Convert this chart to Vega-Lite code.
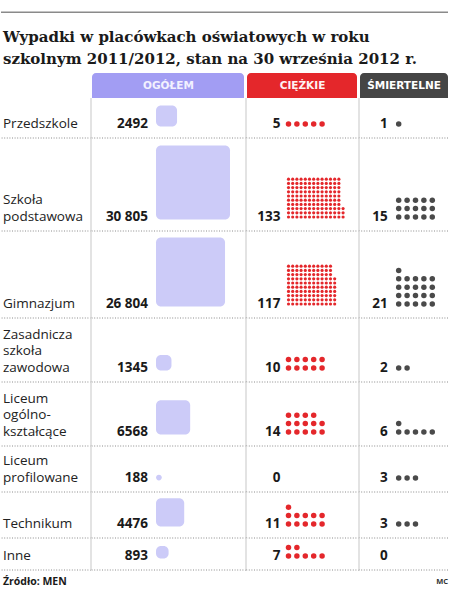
{
"$schema":"https://vega.github.io/schema/vega-lite/v6.json",
"padding":0,
"spacing":0,
"config":{"view":{"stroke":null},"concat":{"spacing":0},"locale":{"number":{"decimal":",","thousands":" ","grouping":[3],"currency":[""," zł"]}}},
"datasets":{
"dane":[
{"typ":"Przedszkole","ogolem":2492,"ciezkie":5,"smiertelne":1},
{"typ":"Szkoła podstawowa","ogolem":30805,"ciezkie":133,"smiertelne":15},
{"typ":"Gimnazjum","ogolem":26804,"ciezkie":117,"smiertelne":21},
{"typ":"Zasadnicza szkoła zawodowa","ogolem":1345,"ciezkie":10,"smiertelne":2},
{"typ":"Liceum ogólnokształcące","ogolem":6568,"ciezkie":14,"smiertelne":6},
{"typ":"Liceum profilowane","ogolem":188,"ciezkie":0,"smiertelne":3},
{"typ":"Technikum","ogolem":4476,"ciezkie":11,"smiertelne":3},
{"typ":"Inne","ogolem":893,"ciezkie":7,"smiertelne":0}
],
"ciezkie":[
{"typ":"Przedszkole"},{"typ":"Przedszkole"},{"typ":"Przedszkole"},{"typ":"Przedszkole"},{"typ":"Przedszkole"},
{"typ":"Szkoła podstawowa"},{"typ":"Szkoła podstawowa"},{"typ":"Szkoła podstawowa"},{"typ":"Szkoła podstawowa"},{"typ":"Szkoła podstawowa"},{"typ":"Szkoła podstawowa"},{"typ":"Szkoła podstawowa"},{"typ":"Szkoła podstawowa"},{"typ":"Szkoła podstawowa"},{"typ":"Szkoła podstawowa"},
{"typ":"Szkoła podstawowa"},{"typ":"Szkoła podstawowa"},{"typ":"Szkoła podstawowa"},{"typ":"Szkoła podstawowa"},{"typ":"Szkoła podstawowa"},{"typ":"Szkoła podstawowa"},{"typ":"Szkoła podstawowa"},{"typ":"Szkoła podstawowa"},{"typ":"Szkoła podstawowa"},{"typ":"Szkoła podstawowa"},
{"typ":"Szkoła podstawowa"},{"typ":"Szkoła podstawowa"},{"typ":"Szkoła podstawowa"},{"typ":"Szkoła podstawowa"},{"typ":"Szkoła podstawowa"},{"typ":"Szkoła podstawowa"},{"typ":"Szkoła podstawowa"},{"typ":"Szkoła podstawowa"},{"typ":"Szkoła podstawowa"},{"typ":"Szkoła podstawowa"},
{"typ":"Szkoła podstawowa"},{"typ":"Szkoła podstawowa"},{"typ":"Szkoła podstawowa"},{"typ":"Szkoła podstawowa"},{"typ":"Szkoła podstawowa"},{"typ":"Szkoła podstawowa"},{"typ":"Szkoła podstawowa"},{"typ":"Szkoła podstawowa"},{"typ":"Szkoła podstawowa"},{"typ":"Szkoła podstawowa"},
{"typ":"Szkoła podstawowa"},{"typ":"Szkoła podstawowa"},{"typ":"Szkoła podstawowa"},{"typ":"Szkoła podstawowa"},{"typ":"Szkoła podstawowa"},{"typ":"Szkoła podstawowa"},{"typ":"Szkoła podstawowa"},{"typ":"Szkoła podstawowa"},{"typ":"Szkoła podstawowa"},{"typ":"Szkoła podstawowa"},
{"typ":"Szkoła podstawowa"},{"typ":"Szkoła podstawowa"},{"typ":"Szkoła podstawowa"},{"typ":"Szkoła podstawowa"},{"typ":"Szkoła podstawowa"},{"typ":"Szkoła podstawowa"},{"typ":"Szkoła podstawowa"},{"typ":"Szkoła podstawowa"},{"typ":"Szkoła podstawowa"},{"typ":"Szkoła podstawowa"},
{"typ":"Szkoła podstawowa"},{"typ":"Szkoła podstawowa"},{"typ":"Szkoła podstawowa"},{"typ":"Szkoła podstawowa"},{"typ":"Szkoła podstawowa"},{"typ":"Szkoła podstawowa"},{"typ":"Szkoła podstawowa"},{"typ":"Szkoła podstawowa"},{"typ":"Szkoła podstawowa"},{"typ":"Szkoła podstawowa"},
{"typ":"Szkoła podstawowa"},{"typ":"Szkoła podstawowa"},{"typ":"Szkoła podstawowa"},{"typ":"Szkoła podstawowa"},{"typ":"Szkoła podstawowa"},{"typ":"Szkoła podstawowa"},{"typ":"Szkoła podstawowa"},{"typ":"Szkoła podstawowa"},{"typ":"Szkoła podstawowa"},{"typ":"Szkoła podstawowa"},
{"typ":"Szkoła podstawowa"},{"typ":"Szkoła podstawowa"},{"typ":"Szkoła podstawowa"},{"typ":"Szkoła podstawowa"},{"typ":"Szkoła podstawowa"},{"typ":"Szkoła podstawowa"},{"typ":"Szkoła podstawowa"},{"typ":"Szkoła podstawowa"},{"typ":"Szkoła podstawowa"},{"typ":"Szkoła podstawowa"},
{"typ":"Szkoła podstawowa"},{"typ":"Szkoła podstawowa"},{"typ":"Szkoła podstawowa"},{"typ":"Szkoła podstawowa"},{"typ":"Szkoła podstawowa"},{"typ":"Szkoła podstawowa"},{"typ":"Szkoła podstawowa"},{"typ":"Szkoła podstawowa"},{"typ":"Szkoła podstawowa"},{"typ":"Szkoła podstawowa"},
{"typ":"Szkoła podstawowa"},{"typ":"Szkoła podstawowa"},{"typ":"Szkoła podstawowa"},{"typ":"Szkoła podstawowa"},{"typ":"Szkoła podstawowa"},{"typ":"Szkoła podstawowa"},{"typ":"Szkoła podstawowa"},{"typ":"Szkoła podstawowa"},{"typ":"Szkoła podstawowa"},{"typ":"Szkoła podstawowa"},
{"typ":"Szkoła podstawowa"},{"typ":"Szkoła podstawowa"},{"typ":"Szkoła podstawowa"},{"typ":"Szkoła podstawowa"},{"typ":"Szkoła podstawowa"},{"typ":"Szkoła podstawowa"},{"typ":"Szkoła podstawowa"},{"typ":"Szkoła podstawowa"},{"typ":"Szkoła podstawowa"},{"typ":"Szkoła podstawowa"},
{"typ":"Szkoła podstawowa"},{"typ":"Szkoła podstawowa"},{"typ":"Szkoła podstawowa"},{"typ":"Szkoła podstawowa"},{"typ":"Szkoła podstawowa"},{"typ":"Szkoła podstawowa"},{"typ":"Szkoła podstawowa"},{"typ":"Szkoła podstawowa"},{"typ":"Szkoła podstawowa"},{"typ":"Szkoła podstawowa"},
{"typ":"Szkoła podstawowa"},{"typ":"Szkoła podstawowa"},{"typ":"Szkoła podstawowa"},
{"typ":"Gimnazjum"},{"typ":"Gimnazjum"},{"typ":"Gimnazjum"},{"typ":"Gimnazjum"},{"typ":"Gimnazjum"},{"typ":"Gimnazjum"},{"typ":"Gimnazjum"},{"typ":"Gimnazjum"},{"typ":"Gimnazjum"},{"typ":"Gimnazjum"},
{"typ":"Gimnazjum"},{"typ":"Gimnazjum"},{"typ":"Gimnazjum"},{"typ":"Gimnazjum"},{"typ":"Gimnazjum"},{"typ":"Gimnazjum"},{"typ":"Gimnazjum"},{"typ":"Gimnazjum"},{"typ":"Gimnazjum"},{"typ":"Gimnazjum"},
{"typ":"Gimnazjum"},{"typ":"Gimnazjum"},{"typ":"Gimnazjum"},{"typ":"Gimnazjum"},{"typ":"Gimnazjum"},{"typ":"Gimnazjum"},{"typ":"Gimnazjum"},{"typ":"Gimnazjum"},{"typ":"Gimnazjum"},{"typ":"Gimnazjum"},
{"typ":"Gimnazjum"},{"typ":"Gimnazjum"},{"typ":"Gimnazjum"},{"typ":"Gimnazjum"},{"typ":"Gimnazjum"},{"typ":"Gimnazjum"},{"typ":"Gimnazjum"},{"typ":"Gimnazjum"},{"typ":"Gimnazjum"},{"typ":"Gimnazjum"},
{"typ":"Gimnazjum"},{"typ":"Gimnazjum"},{"typ":"Gimnazjum"},{"typ":"Gimnazjum"},{"typ":"Gimnazjum"},{"typ":"Gimnazjum"},{"typ":"Gimnazjum"},{"typ":"Gimnazjum"},{"typ":"Gimnazjum"},{"typ":"Gimnazjum"},
{"typ":"Gimnazjum"},{"typ":"Gimnazjum"},{"typ":"Gimnazjum"},{"typ":"Gimnazjum"},{"typ":"Gimnazjum"},{"typ":"Gimnazjum"},{"typ":"Gimnazjum"},{"typ":"Gimnazjum"},{"typ":"Gimnazjum"},{"typ":"Gimnazjum"},
{"typ":"Gimnazjum"},{"typ":"Gimnazjum"},{"typ":"Gimnazjum"},{"typ":"Gimnazjum"},{"typ":"Gimnazjum"},{"typ":"Gimnazjum"},{"typ":"Gimnazjum"},{"typ":"Gimnazjum"},{"typ":"Gimnazjum"},{"typ":"Gimnazjum"},
{"typ":"Gimnazjum"},{"typ":"Gimnazjum"},{"typ":"Gimnazjum"},{"typ":"Gimnazjum"},{"typ":"Gimnazjum"},{"typ":"Gimnazjum"},{"typ":"Gimnazjum"},{"typ":"Gimnazjum"},{"typ":"Gimnazjum"},{"typ":"Gimnazjum"},
{"typ":"Gimnazjum"},{"typ":"Gimnazjum"},{"typ":"Gimnazjum"},{"typ":"Gimnazjum"},{"typ":"Gimnazjum"},{"typ":"Gimnazjum"},{"typ":"Gimnazjum"},{"typ":"Gimnazjum"},{"typ":"Gimnazjum"},{"typ":"Gimnazjum"},
{"typ":"Gimnazjum"},{"typ":"Gimnazjum"},{"typ":"Gimnazjum"},{"typ":"Gimnazjum"},{"typ":"Gimnazjum"},{"typ":"Gimnazjum"},{"typ":"Gimnazjum"},{"typ":"Gimnazjum"},{"typ":"Gimnazjum"},{"typ":"Gimnazjum"},
{"typ":"Gimnazjum"},{"typ":"Gimnazjum"},{"typ":"Gimnazjum"},{"typ":"Gimnazjum"},{"typ":"Gimnazjum"},{"typ":"Gimnazjum"},{"typ":"Gimnazjum"},{"typ":"Gimnazjum"},{"typ":"Gimnazjum"},{"typ":"Gimnazjum"},
{"typ":"Gimnazjum"},{"typ":"Gimnazjum"},{"typ":"Gimnazjum"},{"typ":"Gimnazjum"},{"typ":"Gimnazjum"},{"typ":"Gimnazjum"},{"typ":"Gimnazjum"},
{"typ":"Zasadnicza szkoła zawodowa"},{"typ":"Zasadnicza szkoła zawodowa"},{"typ":"Zasadnicza szkoła zawodowa"},{"typ":"Zasadnicza szkoła zawodowa"},{"typ":"Zasadnicza szkoła zawodowa"},{"typ":"Zasadnicza szkoła zawodowa"},{"typ":"Zasadnicza szkoła zawodowa"},{"typ":"Zasadnicza szkoła zawodowa"},{"typ":"Zasadnicza szkoła zawodowa"},{"typ":"Zasadnicza szkoła zawodowa"},
{"typ":"Liceum ogólnokształcące"},{"typ":"Liceum ogólnokształcące"},{"typ":"Liceum ogólnokształcące"},{"typ":"Liceum ogólnokształcące"},{"typ":"Liceum ogólnokształcące"},{"typ":"Liceum ogólnokształcące"},{"typ":"Liceum ogólnokształcące"},{"typ":"Liceum ogólnokształcące"},{"typ":"Liceum ogólnokształcące"},{"typ":"Liceum ogólnokształcące"},
{"typ":"Liceum ogólnokształcące"},{"typ":"Liceum ogólnokształcące"},{"typ":"Liceum ogólnokształcące"},{"typ":"Liceum ogólnokształcące"},
{"typ":"Technikum"},{"typ":"Technikum"},{"typ":"Technikum"},{"typ":"Technikum"},{"typ":"Technikum"},{"typ":"Technikum"},{"typ":"Technikum"},{"typ":"Technikum"},{"typ":"Technikum"},{"typ":"Technikum"},
{"typ":"Technikum"},
{"typ":"Inne"},{"typ":"Inne"},{"typ":"Inne"},{"typ":"Inne"},{"typ":"Inne"},{"typ":"Inne"},{"typ":"Inne"}
],
"smiertelne":[
{"typ":"Przedszkole"},
{"typ":"Szkoła podstawowa"},{"typ":"Szkoła podstawowa"},{"typ":"Szkoła podstawowa"},{"typ":"Szkoła podstawowa"},{"typ":"Szkoła podstawowa"},{"typ":"Szkoła podstawowa"},{"typ":"Szkoła podstawowa"},{"typ":"Szkoła podstawowa"},{"typ":"Szkoła podstawowa"},{"typ":"Szkoła podstawowa"},
{"typ":"Szkoła podstawowa"},{"typ":"Szkoła podstawowa"},{"typ":"Szkoła podstawowa"},{"typ":"Szkoła podstawowa"},{"typ":"Szkoła podstawowa"},
{"typ":"Gimnazjum"},{"typ":"Gimnazjum"},{"typ":"Gimnazjum"},{"typ":"Gimnazjum"},{"typ":"Gimnazjum"},{"typ":"Gimnazjum"},{"typ":"Gimnazjum"},{"typ":"Gimnazjum"},{"typ":"Gimnazjum"},{"typ":"Gimnazjum"},
{"typ":"Gimnazjum"},{"typ":"Gimnazjum"},{"typ":"Gimnazjum"},{"typ":"Gimnazjum"},{"typ":"Gimnazjum"},{"typ":"Gimnazjum"},{"typ":"Gimnazjum"},{"typ":"Gimnazjum"},{"typ":"Gimnazjum"},{"typ":"Gimnazjum"},
{"typ":"Gimnazjum"},
{"typ":"Zasadnicza szkoła zawodowa"},{"typ":"Zasadnicza szkoła zawodowa"},
{"typ":"Liceum ogólnokształcące"},{"typ":"Liceum ogólnokształcące"},{"typ":"Liceum ogólnokształcące"},{"typ":"Liceum ogólnokształcące"},{"typ":"Liceum ogólnokształcące"},{"typ":"Liceum ogólnokształcące"},
{"typ":"Liceum profilowane"},{"typ":"Liceum profilowane"},{"typ":"Liceum profilowane"},
{"typ":"Technikum"},{"typ":"Technikum"},{"typ":"Technikum"}
]
},
"vconcat":[
{"width":447,"height":73,
 "data":{"values":[{"tytul":["Wypadki w placówkach oświatowych w roku","szkolnym 2011/2012, stan na 30 września 2012 r."]}]},
 "layer":[
  {"mark":{"type":"rule","color":"#8a8a8a","strokeWidth":1.4},"encoding":{"x":{"value":0},"x2":{"value":"width"},"y":{"value":12.3}}},
  {"mark":{"type":"text","align":"left","baseline":"top","font":"DejaVu Serif","fontWeight":"bold","fontSize":15,"lineHeight":22,"color":"#1a1a1a"},
   "encoding":{"text":{"field":"tytul","type":"nominal"},"x":{"value":2},"y":{"value":30}}}
 ]},
{"columns":4,"spacing":0,"bounds":"flush",
 "concat":[
  {"width":90,"height":25,"data":{"values":[{}]},"mark":{"type":"rect","opacity":0},"encoding":{}},
  {"width":155,"height":25,"data":{"values":[{"kolumna":"OGÓŁEM"}]},"layer":[
   {"mark":{"type":"rect","color":"#a29df3","cornerRadiusTopLeft":4,"cornerRadiusTopRight":4,"xOffset":1,"x2Offset":-2},"encoding":{"x":{"value":0},"x2":{"value":"width"},"y":{"value":0},"y2":{"value":"height"}}},
   {"mark":{"type":"text","font":"DejaVu Sans","fontWeight":"bold","fontSize":10.5,"color":"#f2f1ff","baseline":"middle"},"encoding":{"text":{"field":"kolumna","type":"nominal"}}}]},
  {"width":113,"height":25,"data":{"values":[{"kolumna":"CIĘŻKIE"}]},"layer":[
   {"mark":{"type":"rect","color":"#e4272b","cornerRadiusTopLeft":4,"cornerRadiusTopRight":4,"xOffset":1,"x2Offset":-2},"encoding":{"x":{"value":0},"x2":{"value":"width"},"y":{"value":0},"y2":{"value":"height"}}},
   {"mark":{"type":"text","font":"DejaVu Sans","fontWeight":"bold","fontSize":10.5,"color":"#fff2f2","baseline":"middle"},"encoding":{"text":{"field":"kolumna","type":"nominal"}}}]},
  {"width":89,"height":25,"data":{"values":[{"kolumna":"ŚMIERTELNE"}]},"layer":[
   {"mark":{"type":"rect","color":"#454545","cornerRadiusTopLeft":4,"cornerRadiusTopRight":4,"xOffset":1},"encoding":{"x":{"value":0},"x2":{"value":"width"},"y":{"value":0},"y2":{"value":"height"}}},
   {"mark":{"type":"text","font":"DejaVu Sans","fontWeight":"bold","fontSize":10.5,"color":"#ffffff","baseline":"middle","dx":0.5},"encoding":{"text":{"field":"kolumna","type":"nominal"}}}]},

  {"width":90,"height":40,"data":{"name":"dane"},"transform":[{"filter":{"field":"typ","equal":"Przedszkole"}}],"layer":[
   {"mark":{"type":"text","align":"left","baseline":"bottom","font":"Open Sans","fontSize":13.5,"lineHeight":16.5,"color":"#222222","lineBreak":" "},"encoding":{"text":{"field":"typ","type":"nominal"},"x":{"value":2},"y":{"value":32.8}}},
   {"mark":{"type":"rule","color":"#8c8c8c","strokeWidth":1,"strokeDash":[1,1.6]},"encoding":{"y":{"value":"height"}}},
   {"mark":{"type":"rule","color":"#dadada","strokeWidth":1.5},"encoding":{"x":{"value":"width"}}}]},
  {"width":155,"height":40,"data":{"name":"dane"},"transform":[{"filter":{"field":"typ","equal":"Przedszkole"}}],"layer":[
   {"mark":{"type":"rect","color":"#cccbf8","cornerRadius":5},"encoding":{"x":{"field":"ogolem","type":"quantitative","scale":{"type":"sqrt","domain":[0,30805],"range":[65,139],"nice":false},"axis":null},"x2":{"datum":0},"y":{"field":"ogolem","type":"quantitative","scale":{"type":"sqrt","domain":[0,30805],"range":[28.5,-45.5],"nice":false},"axis":null},"y2":{"datum":0}}},
   {"mark":{"type":"text","align":"right","baseline":"alphabetic","dx":-8,"dy":1,"font":"Open Sans","fontWeight":"bold","fontSize":13.5,"color":"#1a1a1a"},"encoding":{"x":{"datum":0,"type":"quantitative","scale":{"type":"sqrt","domain":[0,30805],"range":[65,139],"nice":false},"axis":null},"y":{"datum":0,"type":"quantitative","scale":{"type":"sqrt","domain":[0,30805],"range":[28.5,-45.5],"nice":false},"axis":null},"text":{"field":"ogolem","type":"quantitative","format":"d"}}},
   {"mark":{"type":"rule","color":"#8c8c8c","strokeWidth":1,"strokeDash":[1,1.6]},"encoding":{"y":{"value":"height"}}},
   {"mark":{"type":"rule","color":"#dadada","strokeWidth":1.5},"encoding":{"x":{"value":"width"}}}]},
  {"width":113,"height":40,"data":{"name":"dane"},"transform":[{"filter":{"field":"typ","equal":"Przedszkole"}}],"layer":[
   {"data":{"name":"ciezkie"},"transform":[{"filter":{"field":"typ","equal":"Przedszkole"}},{"window":[{"op":"row_number","as":"i"}]},{"joinaggregate":[{"op":"count","as":"n"}]},{"calculate":"datum.n > 30 ? floor((datum.i - 1) / 10) : 2 * ((datum.i - 1) % 5)","as":"kol"},{"calculate":"datum.n > 30 ? (datum.i - 1) % 10 : 2 * floor((datum.i - 1) / 5)","as":"wiersz"},{"calculate":"datum.n > 30 ? 'drobna' : 'duża'","as":"kropka"}],
    "mark":{"type":"circle","color":"#e4272b","opacity":1},
    "encoding":{"x":{"field":"kol","type":"quantitative","scale":{"domain":[-10.12,16.79],"nice":false,"zero":false},"axis":null},"y":{"field":"wiersz","type":"quantitative","scale":{"domain":[-3.333,6.19],"nice":false,"zero":false},"axis":null},"size":{"field":"kropka","type":"ordinal","scale":{"domain":["duża","drobna"],"range":[30,10]},"legend":null}}},
   {"mark":{"type":"text","align":"right","baseline":"alphabetic","dx":-8,"dy":4,"font":"Open Sans","fontWeight":"bold","fontSize":13.5,"color":"#1a1a1a"},"encoding":{"x":{"datum":0,"type":"quantitative","scale":{"domain":[-10.12,16.79],"nice":false,"zero":false},"axis":null},"y":{"datum":0,"type":"quantitative","scale":{"domain":[-3.333,6.19],"nice":false,"zero":false},"axis":null},"text":{"field":"ciezkie","type":"quantitative"}}},
   {"mark":{"type":"rule","color":"#8c8c8c","strokeWidth":1,"strokeDash":[1,1.6]},"encoding":{"y":{"value":"height"}}},
   {"mark":{"type":"rule","color":"#dadada","strokeWidth":1.5},"encoding":{"x":{"value":"width"}}}]},
  {"width":89,"height":40,"data":{"name":"dane"},"transform":[{"filter":{"field":"typ","equal":"Przedszkole"}}],"layer":[
   {"data":{"name":"smiertelne"},"transform":[{"filter":{"field":"typ","equal":"Przedszkole"}},{"window":[{"op":"row_number","as":"i"}]},{"joinaggregate":[{"op":"count","as":"n"}]},{"calculate":"datum.n > 30 ? floor((datum.i - 1) / 10) : 2 * ((datum.i - 1) % 5)","as":"kol"},{"calculate":"datum.n > 30 ? (datum.i - 1) % 10 : 2 * floor((datum.i - 1) / 5)","as":"wiersz"},{"calculate":"datum.n > 30 ? 'drobna' : 'duża'","as":"kropka"}],
    "mark":{"type":"circle","color":"#4a4a4a","opacity":1},
    "encoding":{"x":{"field":"kol","type":"quantitative","scale":{"domain":[-9.45,11.74],"nice":false,"zero":false},"axis":null},"y":{"field":"wiersz","type":"quantitative","scale":{"domain":[-3.333,6.19],"nice":false,"zero":false},"axis":null},"size":{"field":"kropka","type":"ordinal","scale":{"domain":["duża","drobna"],"range":[30,10]},"legend":null}}},
   {"mark":{"type":"text","align":"right","baseline":"alphabetic","dx":-11,"dy":4,"font":"Open Sans","fontWeight":"bold","fontSize":13.5,"color":"#1a1a1a"},"encoding":{"x":{"datum":0,"type":"quantitative","scale":{"domain":[-9.45,11.74],"nice":false,"zero":false},"axis":null},"y":{"datum":0,"type":"quantitative","scale":{"domain":[-3.333,6.19],"nice":false,"zero":false},"axis":null},"text":{"field":"smiertelne","type":"quantitative"}}},
   {"mark":{"type":"rule","color":"#8c8c8c","strokeWidth":1,"strokeDash":[1,1.6]},"encoding":{"y":{"value":"height"}}}]},

  {"width":90,"height":93,"data":{"name":"dane"},"transform":[{"filter":{"field":"typ","equal":"Szkoła podstawowa"}}],"layer":[
   {"mark":{"type":"text","align":"left","baseline":"bottom","font":"Open Sans","fontSize":13.5,"lineHeight":16.5,"color":"#222222","lineBreak":" "},"encoding":{"text":{"field":"typ","type":"nominal"},"x":{"value":2},"y":{"value":69.3}}},
   {"mark":{"type":"rule","color":"#8c8c8c","strokeWidth":1,"strokeDash":[1,1.6]},"encoding":{"y":{"value":"height"}}},
   {"mark":{"type":"rule","color":"#dadada","strokeWidth":1.5},"encoding":{"x":{"value":"width"}}}]},
  {"width":155,"height":93,"data":{"name":"dane"},"transform":[{"filter":{"field":"typ","equal":"Szkoła podstawowa"}}],"layer":[
   {"mark":{"type":"rect","color":"#cccbf8","cornerRadius":5},"encoding":{"x":{"field":"ogolem","type":"quantitative","scale":{"type":"sqrt","domain":[0,30805],"range":[65,139],"nice":false},"axis":null},"x2":{"datum":0},"y":{"field":"ogolem","type":"quantitative","scale":{"type":"sqrt","domain":[0,30805],"range":[81.5,7.5],"nice":false},"axis":null},"y2":{"datum":0}}},
   {"mark":{"type":"text","align":"right","baseline":"alphabetic","dx":-8,"dy":1,"font":"Open Sans","fontWeight":"bold","fontSize":13.5,"color":"#1a1a1a"},"encoding":{"x":{"datum":0,"type":"quantitative","scale":{"type":"sqrt","domain":[0,30805],"range":[65,139],"nice":false},"axis":null},"y":{"datum":0,"type":"quantitative","scale":{"type":"sqrt","domain":[0,30805],"range":[81.5,7.5],"nice":false},"axis":null},"text":{"field":"ogolem","type":"quantitative","format":",d"}}},
   {"mark":{"type":"rule","color":"#8c8c8c","strokeWidth":1,"strokeDash":[1,1.6]},"encoding":{"y":{"value":"height"}}},
   {"mark":{"type":"rule","color":"#dadada","strokeWidth":1.5},"encoding":{"x":{"value":"width"}}}]},
  {"width":113,"height":93,"data":{"name":"dane"},"transform":[{"filter":{"field":"typ","equal":"Szkoła podstawowa"}}],"layer":[
   {"data":{"name":"ciezkie"},"transform":[{"filter":{"field":"typ","equal":"Szkoła podstawowa"}},{"window":[{"op":"row_number","as":"i"}]},{"joinaggregate":[{"op":"count","as":"n"}]},{"calculate":"datum.n > 30 ? floor((datum.i - 1) / 10) : 2 * ((datum.i - 1) % 5)","as":"kol"},{"calculate":"datum.n > 30 ? (datum.i - 1) % 10 : 2 * floor((datum.i - 1) / 5)","as":"wiersz"},{"calculate":"datum.n > 30 ? 'drobna' : 'duża'","as":"kropka"}],
    "mark":{"type":"circle","color":"#e4272b","opacity":1},
    "encoding":{"x":{"field":"kol","type":"quantitative","scale":{"domain":[-10.12,16.79],"nice":false,"zero":false},"axis":null},"y":{"field":"wiersz","type":"quantitative","scale":{"domain":[-3.333,18.81],"nice":false,"zero":false},"axis":null},"size":{"field":"kropka","type":"ordinal","scale":{"domain":["duża","drobna"],"range":[30,10]},"legend":null}}},
   {"mark":{"type":"text","align":"right","baseline":"alphabetic","dx":-8,"dy":4,"font":"Open Sans","fontWeight":"bold","fontSize":13.5,"color":"#1a1a1a"},"encoding":{"x":{"datum":0,"type":"quantitative","scale":{"domain":[-10.12,16.79],"nice":false,"zero":false},"axis":null},"y":{"datum":0,"type":"quantitative","scale":{"domain":[-3.333,18.81],"nice":false,"zero":false},"axis":null},"text":{"field":"ciezkie","type":"quantitative"}}},
   {"mark":{"type":"rule","color":"#8c8c8c","strokeWidth":1,"strokeDash":[1,1.6]},"encoding":{"y":{"value":"height"}}},
   {"mark":{"type":"rule","color":"#dadada","strokeWidth":1.5},"encoding":{"x":{"value":"width"}}}]},
  {"width":89,"height":93,"data":{"name":"dane"},"transform":[{"filter":{"field":"typ","equal":"Szkoła podstawowa"}}],"layer":[
   {"data":{"name":"smiertelne"},"transform":[{"filter":{"field":"typ","equal":"Szkoła podstawowa"}},{"window":[{"op":"row_number","as":"i"}]},{"joinaggregate":[{"op":"count","as":"n"}]},{"calculate":"datum.n > 30 ? floor((datum.i - 1) / 10) : 2 * ((datum.i - 1) % 5)","as":"kol"},{"calculate":"datum.n > 30 ? (datum.i - 1) % 10 : 2 * floor((datum.i - 1) / 5)","as":"wiersz"},{"calculate":"datum.n > 30 ? 'drobna' : 'duża'","as":"kropka"}],
    "mark":{"type":"circle","color":"#4a4a4a","opacity":1},
    "encoding":{"x":{"field":"kol","type":"quantitative","scale":{"domain":[-9.45,11.74],"nice":false,"zero":false},"axis":null},"y":{"field":"wiersz","type":"quantitative","scale":{"domain":[-3.333,18.81],"nice":false,"zero":false},"axis":null},"size":{"field":"kropka","type":"ordinal","scale":{"domain":["duża","drobna"],"range":[30,10]},"legend":null}}},
   {"mark":{"type":"text","align":"right","baseline":"alphabetic","dx":-11,"dy":4,"font":"Open Sans","fontWeight":"bold","fontSize":13.5,"color":"#1a1a1a"},"encoding":{"x":{"datum":0,"type":"quantitative","scale":{"domain":[-9.45,11.74],"nice":false,"zero":false},"axis":null},"y":{"datum":0,"type":"quantitative","scale":{"domain":[-3.333,18.81],"nice":false,"zero":false},"axis":null},"text":{"field":"smiertelne","type":"quantitative"}}},
   {"mark":{"type":"rule","color":"#8c8c8c","strokeWidth":1,"strokeDash":[1,1.6]},"encoding":{"y":{"value":"height"}}}]},

  {"width":90,"height":87,"data":{"name":"dane"},"transform":[{"filter":{"field":"typ","equal":"Gimnazjum"}}],"layer":[
   {"mark":{"type":"text","align":"left","baseline":"bottom","font":"Open Sans","fontSize":13.5,"lineHeight":16.5,"color":"#222222","lineBreak":" "},"encoding":{"text":{"field":"typ","type":"nominal"},"x":{"value":2},"y":{"value":79.8}}},
   {"mark":{"type":"rule","color":"#8c8c8c","strokeWidth":1,"strokeDash":[1,1.6]},"encoding":{"y":{"value":"height"}}},
   {"mark":{"type":"rule","color":"#dadada","strokeWidth":1.5},"encoding":{"x":{"value":"width"}}}]},
  {"width":155,"height":87,"data":{"name":"dane"},"transform":[{"filter":{"field":"typ","equal":"Gimnazjum"}}],"layer":[
   {"mark":{"type":"rect","color":"#cccbf8","cornerRadius":5},"encoding":{"x":{"field":"ogolem","type":"quantitative","scale":{"type":"sqrt","domain":[0,30805],"range":[65,139],"nice":false},"axis":null},"x2":{"datum":0},"y":{"field":"ogolem","type":"quantitative","scale":{"type":"sqrt","domain":[0,30805],"range":[75.5,1.5],"nice":false},"axis":null},"y2":{"datum":0}}},
   {"mark":{"type":"text","align":"right","baseline":"alphabetic","dx":-8,"dy":1,"font":"Open Sans","fontWeight":"bold","fontSize":13.5,"color":"#1a1a1a"},"encoding":{"x":{"datum":0,"type":"quantitative","scale":{"type":"sqrt","domain":[0,30805],"range":[65,139],"nice":false},"axis":null},"y":{"datum":0,"type":"quantitative","scale":{"type":"sqrt","domain":[0,30805],"range":[75.5,1.5],"nice":false},"axis":null},"text":{"field":"ogolem","type":"quantitative","format":",d"}}},
   {"mark":{"type":"rule","color":"#8c8c8c","strokeWidth":1,"strokeDash":[1,1.6]},"encoding":{"y":{"value":"height"}}},
   {"mark":{"type":"rule","color":"#dadada","strokeWidth":1.5},"encoding":{"x":{"value":"width"}}}]},
  {"width":113,"height":87,"data":{"name":"dane"},"transform":[{"filter":{"field":"typ","equal":"Gimnazjum"}}],"layer":[
   {"data":{"name":"ciezkie"},"transform":[{"filter":{"field":"typ","equal":"Gimnazjum"}},{"window":[{"op":"row_number","as":"i"}]},{"joinaggregate":[{"op":"count","as":"n"}]},{"calculate":"datum.n > 30 ? floor((datum.i - 1) / 10) : 2 * ((datum.i - 1) % 5)","as":"kol"},{"calculate":"datum.n > 30 ? (datum.i - 1) % 10 : 2 * floor((datum.i - 1) / 5)","as":"wiersz"},{"calculate":"datum.n > 30 ? 'drobna' : 'duża'","as":"kropka"}],
    "mark":{"type":"circle","color":"#e4272b","opacity":1},
    "encoding":{"x":{"field":"kol","type":"quantitative","scale":{"domain":[-10.12,16.79],"nice":false,"zero":false},"axis":null},"y":{"field":"wiersz","type":"quantitative","scale":{"domain":[-3.333,17.38],"nice":false,"zero":false},"axis":null},"size":{"field":"kropka","type":"ordinal","scale":{"domain":["duża","drobna"],"range":[30,10]},"legend":null}}},
   {"mark":{"type":"text","align":"right","baseline":"alphabetic","dx":-8,"dy":4,"font":"Open Sans","fontWeight":"bold","fontSize":13.5,"color":"#1a1a1a"},"encoding":{"x":{"datum":0,"type":"quantitative","scale":{"domain":[-10.12,16.79],"nice":false,"zero":false},"axis":null},"y":{"datum":0,"type":"quantitative","scale":{"domain":[-3.333,17.38],"nice":false,"zero":false},"axis":null},"text":{"field":"ciezkie","type":"quantitative"}}},
   {"mark":{"type":"rule","color":"#8c8c8c","strokeWidth":1,"strokeDash":[1,1.6]},"encoding":{"y":{"value":"height"}}},
   {"mark":{"type":"rule","color":"#dadada","strokeWidth":1.5},"encoding":{"x":{"value":"width"}}}]},
  {"width":89,"height":87,"data":{"name":"dane"},"transform":[{"filter":{"field":"typ","equal":"Gimnazjum"}}],"layer":[
   {"data":{"name":"smiertelne"},"transform":[{"filter":{"field":"typ","equal":"Gimnazjum"}},{"window":[{"op":"row_number","as":"i"}]},{"joinaggregate":[{"op":"count","as":"n"}]},{"calculate":"datum.n > 30 ? floor((datum.i - 1) / 10) : 2 * ((datum.i - 1) % 5)","as":"kol"},{"calculate":"datum.n > 30 ? (datum.i - 1) % 10 : 2 * floor((datum.i - 1) / 5)","as":"wiersz"},{"calculate":"datum.n > 30 ? 'drobna' : 'duża'","as":"kropka"}],
    "mark":{"type":"circle","color":"#4a4a4a","opacity":1},
    "encoding":{"x":{"field":"kol","type":"quantitative","scale":{"domain":[-9.45,11.74],"nice":false,"zero":false},"axis":null},"y":{"field":"wiersz","type":"quantitative","scale":{"domain":[-3.333,17.38],"nice":false,"zero":false},"axis":null},"size":{"field":"kropka","type":"ordinal","scale":{"domain":["duża","drobna"],"range":[30,10]},"legend":null}}},
   {"mark":{"type":"text","align":"right","baseline":"alphabetic","dx":-11,"dy":4,"font":"Open Sans","fontWeight":"bold","fontSize":13.5,"color":"#1a1a1a"},"encoding":{"x":{"datum":0,"type":"quantitative","scale":{"domain":[-9.45,11.74],"nice":false,"zero":false},"axis":null},"y":{"datum":0,"type":"quantitative","scale":{"domain":[-3.333,17.38],"nice":false,"zero":false},"axis":null},"text":{"field":"smiertelne","type":"quantitative"}}},
   {"mark":{"type":"rule","color":"#8c8c8c","strokeWidth":1,"strokeDash":[1,1.6]},"encoding":{"y":{"value":"height"}}}]},

  {"width":90,"height":64,"data":{"name":"dane"},"transform":[{"filter":{"field":"typ","equal":"Zasadnicza szkoła zawodowa"}}],"layer":[
   {"mark":{"type":"text","align":"left","baseline":"bottom","font":"Open Sans","fontSize":13.5,"lineHeight":16.5,"color":"#222222","lineBreak":" "},"encoding":{"text":{"field":"typ","type":"nominal"},"x":{"value":2},"y":{"value":23.8}}},
   {"mark":{"type":"rule","color":"#8c8c8c","strokeWidth":1,"strokeDash":[1,1.6]},"encoding":{"y":{"value":"height"}}},
   {"mark":{"type":"rule","color":"#dadada","strokeWidth":1.5},"encoding":{"x":{"value":"width"}}}]},
  {"width":155,"height":64,"data":{"name":"dane"},"transform":[{"filter":{"field":"typ","equal":"Zasadnicza szkoła zawodowa"}}],"layer":[
   {"mark":{"type":"rect","color":"#cccbf8","cornerRadius":5},"encoding":{"x":{"field":"ogolem","type":"quantitative","scale":{"type":"sqrt","domain":[0,30805],"range":[65,139],"nice":false},"axis":null},"x2":{"datum":0},"y":{"field":"ogolem","type":"quantitative","scale":{"type":"sqrt","domain":[0,30805],"range":[52.5,-21.5],"nice":false},"axis":null},"y2":{"datum":0}}},
   {"mark":{"type":"text","align":"right","baseline":"alphabetic","dx":-8,"dy":1,"font":"Open Sans","fontWeight":"bold","fontSize":13.5,"color":"#1a1a1a"},"encoding":{"x":{"datum":0,"type":"quantitative","scale":{"type":"sqrt","domain":[0,30805],"range":[65,139],"nice":false},"axis":null},"y":{"datum":0,"type":"quantitative","scale":{"type":"sqrt","domain":[0,30805],"range":[52.5,-21.5],"nice":false},"axis":null},"text":{"field":"ogolem","type":"quantitative","format":"d"}}},
   {"mark":{"type":"rule","color":"#8c8c8c","strokeWidth":1,"strokeDash":[1,1.6]},"encoding":{"y":{"value":"height"}}},
   {"mark":{"type":"rule","color":"#dadada","strokeWidth":1.5},"encoding":{"x":{"value":"width"}}}]},
  {"width":113,"height":64,"data":{"name":"dane"},"transform":[{"filter":{"field":"typ","equal":"Zasadnicza szkoła zawodowa"}}],"layer":[
   {"data":{"name":"ciezkie"},"transform":[{"filter":{"field":"typ","equal":"Zasadnicza szkoła zawodowa"}},{"window":[{"op":"row_number","as":"i"}]},{"joinaggregate":[{"op":"count","as":"n"}]},{"calculate":"datum.n > 30 ? floor((datum.i - 1) / 10) : 2 * ((datum.i - 1) % 5)","as":"kol"},{"calculate":"datum.n > 30 ? (datum.i - 1) % 10 : 2 * floor((datum.i - 1) / 5)","as":"wiersz"},{"calculate":"datum.n > 30 ? 'drobna' : 'duża'","as":"kropka"}],
    "mark":{"type":"circle","color":"#e4272b","opacity":1},
    "encoding":{"x":{"field":"kol","type":"quantitative","scale":{"domain":[-10.12,16.79],"nice":false,"zero":false},"axis":null},"y":{"field":"wiersz","type":"quantitative","scale":{"domain":[-3.333,11.9],"nice":false,"zero":false},"axis":null},"size":{"field":"kropka","type":"ordinal","scale":{"domain":["duża","drobna"],"range":[30,10]},"legend":null}}},
   {"mark":{"type":"text","align":"right","baseline":"alphabetic","dx":-8,"dy":4,"font":"Open Sans","fontWeight":"bold","fontSize":13.5,"color":"#1a1a1a"},"encoding":{"x":{"datum":0,"type":"quantitative","scale":{"domain":[-10.12,16.79],"nice":false,"zero":false},"axis":null},"y":{"datum":0,"type":"quantitative","scale":{"domain":[-3.333,11.9],"nice":false,"zero":false},"axis":null},"text":{"field":"ciezkie","type":"quantitative"}}},
   {"mark":{"type":"rule","color":"#8c8c8c","strokeWidth":1,"strokeDash":[1,1.6]},"encoding":{"y":{"value":"height"}}},
   {"mark":{"type":"rule","color":"#dadada","strokeWidth":1.5},"encoding":{"x":{"value":"width"}}}]},
  {"width":89,"height":64,"data":{"name":"dane"},"transform":[{"filter":{"field":"typ","equal":"Zasadnicza szkoła zawodowa"}}],"layer":[
   {"data":{"name":"smiertelne"},"transform":[{"filter":{"field":"typ","equal":"Zasadnicza szkoła zawodowa"}},{"window":[{"op":"row_number","as":"i"}]},{"joinaggregate":[{"op":"count","as":"n"}]},{"calculate":"datum.n > 30 ? floor((datum.i - 1) / 10) : 2 * ((datum.i - 1) % 5)","as":"kol"},{"calculate":"datum.n > 30 ? (datum.i - 1) % 10 : 2 * floor((datum.i - 1) / 5)","as":"wiersz"},{"calculate":"datum.n > 30 ? 'drobna' : 'duża'","as":"kropka"}],
    "mark":{"type":"circle","color":"#4a4a4a","opacity":1},
    "encoding":{"x":{"field":"kol","type":"quantitative","scale":{"domain":[-9.45,11.74],"nice":false,"zero":false},"axis":null},"y":{"field":"wiersz","type":"quantitative","scale":{"domain":[-3.333,11.9],"nice":false,"zero":false},"axis":null},"size":{"field":"kropka","type":"ordinal","scale":{"domain":["duża","drobna"],"range":[30,10]},"legend":null}}},
   {"mark":{"type":"text","align":"right","baseline":"alphabetic","dx":-11,"dy":4,"font":"Open Sans","fontWeight":"bold","fontSize":13.5,"color":"#1a1a1a"},"encoding":{"x":{"datum":0,"type":"quantitative","scale":{"domain":[-9.45,11.74],"nice":false,"zero":false},"axis":null},"y":{"datum":0,"type":"quantitative","scale":{"domain":[-3.333,11.9],"nice":false,"zero":false},"axis":null},"text":{"field":"smiertelne","type":"quantitative"}}},
   {"mark":{"type":"rule","color":"#8c8c8c","strokeWidth":1,"strokeDash":[1,1.6]},"encoding":{"y":{"value":"height"}}}]},

  {"width":90,"height":64,"data":{"name":"dane"},"transform":[{"filter":{"field":"typ","equal":"Liceum ogólnokształcące"}}],"layer":[
   {"mark":{"type":"text","align":"left","baseline":"bottom","font":"Open Sans","fontSize":13.5,"lineHeight":16.5,"color":"#222222"},"encoding":{"text":{"value":["Liceum","ogólno-","kształcące"]},"x":{"value":2},"y":{"value":23.8}}},
   {"mark":{"type":"rule","color":"#8c8c8c","strokeWidth":1,"strokeDash":[1,1.6]},"encoding":{"y":{"value":"height"}}},
   {"mark":{"type":"rule","color":"#dadada","strokeWidth":1.5},"encoding":{"x":{"value":"width"}}}]},
  {"width":155,"height":64,"data":{"name":"dane"},"transform":[{"filter":{"field":"typ","equal":"Liceum ogólnokształcące"}}],"layer":[
   {"mark":{"type":"rect","color":"#cccbf8","cornerRadius":5},"encoding":{"x":{"field":"ogolem","type":"quantitative","scale":{"type":"sqrt","domain":[0,30805],"range":[65,139],"nice":false},"axis":null},"x2":{"datum":0},"y":{"field":"ogolem","type":"quantitative","scale":{"type":"sqrt","domain":[0,30805],"range":[52.5,-21.5],"nice":false},"axis":null},"y2":{"datum":0}}},
   {"mark":{"type":"text","align":"right","baseline":"alphabetic","dx":-8,"dy":1,"font":"Open Sans","fontWeight":"bold","fontSize":13.5,"color":"#1a1a1a"},"encoding":{"x":{"datum":0,"type":"quantitative","scale":{"type":"sqrt","domain":[0,30805],"range":[65,139],"nice":false},"axis":null},"y":{"datum":0,"type":"quantitative","scale":{"type":"sqrt","domain":[0,30805],"range":[52.5,-21.5],"nice":false},"axis":null},"text":{"field":"ogolem","type":"quantitative","format":"d"}}},
   {"mark":{"type":"rule","color":"#8c8c8c","strokeWidth":1,"strokeDash":[1,1.6]},"encoding":{"y":{"value":"height"}}},
   {"mark":{"type":"rule","color":"#dadada","strokeWidth":1.5},"encoding":{"x":{"value":"width"}}}]},
  {"width":113,"height":64,"data":{"name":"dane"},"transform":[{"filter":{"field":"typ","equal":"Liceum ogólnokształcące"}}],"layer":[
   {"data":{"name":"ciezkie"},"transform":[{"filter":{"field":"typ","equal":"Liceum ogólnokształcące"}},{"window":[{"op":"row_number","as":"i"}]},{"joinaggregate":[{"op":"count","as":"n"}]},{"calculate":"datum.n > 30 ? floor((datum.i - 1) / 10) : 2 * ((datum.i - 1) % 5)","as":"kol"},{"calculate":"datum.n > 30 ? (datum.i - 1) % 10 : 2 * floor((datum.i - 1) / 5)","as":"wiersz"},{"calculate":"datum.n > 30 ? 'drobna' : 'duża'","as":"kropka"}],
    "mark":{"type":"circle","color":"#e4272b","opacity":1},
    "encoding":{"x":{"field":"kol","type":"quantitative","scale":{"domain":[-10.12,16.79],"nice":false,"zero":false},"axis":null},"y":{"field":"wiersz","type":"quantitative","scale":{"domain":[-3.333,11.9],"nice":false,"zero":false},"axis":null},"size":{"field":"kropka","type":"ordinal","scale":{"domain":["duża","drobna"],"range":[30,10]},"legend":null}}},
   {"mark":{"type":"text","align":"right","baseline":"alphabetic","dx":-8,"dy":4,"font":"Open Sans","fontWeight":"bold","fontSize":13.5,"color":"#1a1a1a"},"encoding":{"x":{"datum":0,"type":"quantitative","scale":{"domain":[-10.12,16.79],"nice":false,"zero":false},"axis":null},"y":{"datum":0,"type":"quantitative","scale":{"domain":[-3.333,11.9],"nice":false,"zero":false},"axis":null},"text":{"field":"ciezkie","type":"quantitative"}}},
   {"mark":{"type":"rule","color":"#8c8c8c","strokeWidth":1,"strokeDash":[1,1.6]},"encoding":{"y":{"value":"height"}}},
   {"mark":{"type":"rule","color":"#dadada","strokeWidth":1.5},"encoding":{"x":{"value":"width"}}}]},
  {"width":89,"height":64,"data":{"name":"dane"},"transform":[{"filter":{"field":"typ","equal":"Liceum ogólnokształcące"}}],"layer":[
   {"data":{"name":"smiertelne"},"transform":[{"filter":{"field":"typ","equal":"Liceum ogólnokształcące"}},{"window":[{"op":"row_number","as":"i"}]},{"joinaggregate":[{"op":"count","as":"n"}]},{"calculate":"datum.n > 30 ? floor((datum.i - 1) / 10) : 2 * ((datum.i - 1) % 5)","as":"kol"},{"calculate":"datum.n > 30 ? (datum.i - 1) % 10 : 2 * floor((datum.i - 1) / 5)","as":"wiersz"},{"calculate":"datum.n > 30 ? 'drobna' : 'duża'","as":"kropka"}],
    "mark":{"type":"circle","color":"#4a4a4a","opacity":1},
    "encoding":{"x":{"field":"kol","type":"quantitative","scale":{"domain":[-9.45,11.74],"nice":false,"zero":false},"axis":null},"y":{"field":"wiersz","type":"quantitative","scale":{"domain":[-3.333,11.9],"nice":false,"zero":false},"axis":null},"size":{"field":"kropka","type":"ordinal","scale":{"domain":["duża","drobna"],"range":[30,10]},"legend":null}}},
   {"mark":{"type":"text","align":"right","baseline":"alphabetic","dx":-11,"dy":4,"font":"Open Sans","fontWeight":"bold","fontSize":13.5,"color":"#1a1a1a"},"encoding":{"x":{"datum":0,"type":"quantitative","scale":{"domain":[-9.45,11.74],"nice":false,"zero":false},"axis":null},"y":{"datum":0,"type":"quantitative","scale":{"domain":[-3.333,11.9],"nice":false,"zero":false},"axis":null},"text":{"field":"smiertelne","type":"quantitative"}}},
   {"mark":{"type":"rule","color":"#8c8c8c","strokeWidth":1,"strokeDash":[1,1.6]},"encoding":{"y":{"value":"height"}}}]},

  {"width":90,"height":46,"data":{"name":"dane"},"transform":[{"filter":{"field":"typ","equal":"Liceum profilowane"}}],"layer":[
   {"mark":{"type":"text","align":"left","baseline":"bottom","font":"Open Sans","fontSize":13.5,"lineHeight":16.5,"color":"#222222","lineBreak":" "},"encoding":{"text":{"field":"typ","type":"nominal"},"x":{"value":2},"y":{"value":22.3}}},
   {"mark":{"type":"rule","color":"#8c8c8c","strokeWidth":1,"strokeDash":[1,1.6]},"encoding":{"y":{"value":"height"}}},
   {"mark":{"type":"rule","color":"#dadada","strokeWidth":1.5},"encoding":{"x":{"value":"width"}}}]},
  {"width":155,"height":46,"data":{"name":"dane"},"transform":[{"filter":{"field":"typ","equal":"Liceum profilowane"}}],"layer":[
   {"mark":{"type":"rect","color":"#cccbf8","cornerRadius":5},"encoding":{"x":{"field":"ogolem","type":"quantitative","scale":{"type":"sqrt","domain":[0,30805],"range":[65,139],"nice":false},"axis":null},"x2":{"datum":0},"y":{"field":"ogolem","type":"quantitative","scale":{"type":"sqrt","domain":[0,30805],"range":[34.5,-39.5],"nice":false},"axis":null},"y2":{"datum":0}}},
   {"mark":{"type":"text","align":"right","baseline":"alphabetic","dx":-8,"dy":1,"font":"Open Sans","fontWeight":"bold","fontSize":13.5,"color":"#1a1a1a"},"encoding":{"x":{"datum":0,"type":"quantitative","scale":{"type":"sqrt","domain":[0,30805],"range":[65,139],"nice":false},"axis":null},"y":{"datum":0,"type":"quantitative","scale":{"type":"sqrt","domain":[0,30805],"range":[34.5,-39.5],"nice":false},"axis":null},"text":{"field":"ogolem","type":"quantitative","format":"d"}}},
   {"mark":{"type":"rule","color":"#8c8c8c","strokeWidth":1,"strokeDash":[1,1.6]},"encoding":{"y":{"value":"height"}}},
   {"mark":{"type":"rule","color":"#dadada","strokeWidth":1.5},"encoding":{"x":{"value":"width"}}}]},
  {"width":113,"height":46,"data":{"name":"dane"},"transform":[{"filter":{"field":"typ","equal":"Liceum profilowane"}}],"layer":[
   {"mark":{"type":"text","align":"right","baseline":"alphabetic","dx":-8,"dy":4,"font":"Open Sans","fontWeight":"bold","fontSize":13.5,"color":"#1a1a1a"},"encoding":{"x":{"datum":0,"type":"quantitative","scale":{"domain":[-10.12,16.79],"nice":false,"zero":false},"axis":null},"y":{"datum":0,"type":"quantitative","scale":{"domain":[-3.333,7.62],"nice":false,"zero":false},"axis":null},"text":{"field":"ciezkie","type":"quantitative"}}},
   {"mark":{"type":"rule","color":"#8c8c8c","strokeWidth":1,"strokeDash":[1,1.6]},"encoding":{"y":{"value":"height"}}},
   {"mark":{"type":"rule","color":"#dadada","strokeWidth":1.5},"encoding":{"x":{"value":"width"}}}]},
  {"width":89,"height":46,"data":{"name":"dane"},"transform":[{"filter":{"field":"typ","equal":"Liceum profilowane"}}],"layer":[
   {"data":{"name":"smiertelne"},"transform":[{"filter":{"field":"typ","equal":"Liceum profilowane"}},{"window":[{"op":"row_number","as":"i"}]},{"joinaggregate":[{"op":"count","as":"n"}]},{"calculate":"datum.n > 30 ? floor((datum.i - 1) / 10) : 2 * ((datum.i - 1) % 5)","as":"kol"},{"calculate":"datum.n > 30 ? (datum.i - 1) % 10 : 2 * floor((datum.i - 1) / 5)","as":"wiersz"},{"calculate":"datum.n > 30 ? 'drobna' : 'duża'","as":"kropka"}],
    "mark":{"type":"circle","color":"#4a4a4a","opacity":1},
    "encoding":{"x":{"field":"kol","type":"quantitative","scale":{"domain":[-9.45,11.74],"nice":false,"zero":false},"axis":null},"y":{"field":"wiersz","type":"quantitative","scale":{"domain":[-3.333,7.62],"nice":false,"zero":false},"axis":null},"size":{"field":"kropka","type":"ordinal","scale":{"domain":["duża","drobna"],"range":[30,10]},"legend":null}}},
   {"mark":{"type":"text","align":"right","baseline":"alphabetic","dx":-11,"dy":4,"font":"Open Sans","fontWeight":"bold","fontSize":13.5,"color":"#1a1a1a"},"encoding":{"x":{"datum":0,"type":"quantitative","scale":{"domain":[-9.45,11.74],"nice":false,"zero":false},"axis":null},"y":{"datum":0,"type":"quantitative","scale":{"domain":[-3.333,7.62],"nice":false,"zero":false},"axis":null},"text":{"field":"smiertelne","type":"quantitative"}}},
   {"mark":{"type":"rule","color":"#8c8c8c","strokeWidth":1,"strokeDash":[1,1.6]},"encoding":{"y":{"value":"height"}}}]},

  {"width":90,"height":46,"data":{"name":"dane"},"transform":[{"filter":{"field":"typ","equal":"Technikum"}}],"layer":[
   {"mark":{"type":"text","align":"left","baseline":"bottom","font":"Open Sans","fontSize":13.5,"lineHeight":16.5,"color":"#222222","lineBreak":" "},"encoding":{"text":{"field":"typ","type":"nominal"},"x":{"value":2},"y":{"value":38.8}}},
   {"mark":{"type":"rule","color":"#8c8c8c","strokeWidth":1,"strokeDash":[1,1.6]},"encoding":{"y":{"value":"height"}}},
   {"mark":{"type":"rule","color":"#dadada","strokeWidth":1.5},"encoding":{"x":{"value":"width"}}}]},
  {"width":155,"height":46,"data":{"name":"dane"},"transform":[{"filter":{"field":"typ","equal":"Technikum"}}],"layer":[
   {"mark":{"type":"rect","color":"#cccbf8","cornerRadius":5},"encoding":{"x":{"field":"ogolem","type":"quantitative","scale":{"type":"sqrt","domain":[0,30805],"range":[65,139],"nice":false},"axis":null},"x2":{"datum":0},"y":{"field":"ogolem","type":"quantitative","scale":{"type":"sqrt","domain":[0,30805],"range":[34.5,-39.5],"nice":false},"axis":null},"y2":{"datum":0}}},
   {"mark":{"type":"text","align":"right","baseline":"alphabetic","dx":-8,"dy":1,"font":"Open Sans","fontWeight":"bold","fontSize":13.5,"color":"#1a1a1a"},"encoding":{"x":{"datum":0,"type":"quantitative","scale":{"type":"sqrt","domain":[0,30805],"range":[65,139],"nice":false},"axis":null},"y":{"datum":0,"type":"quantitative","scale":{"type":"sqrt","domain":[0,30805],"range":[34.5,-39.5],"nice":false},"axis":null},"text":{"field":"ogolem","type":"quantitative","format":"d"}}},
   {"mark":{"type":"rule","color":"#8c8c8c","strokeWidth":1,"strokeDash":[1,1.6]},"encoding":{"y":{"value":"height"}}},
   {"mark":{"type":"rule","color":"#dadada","strokeWidth":1.5},"encoding":{"x":{"value":"width"}}}]},
  {"width":113,"height":46,"data":{"name":"dane"},"transform":[{"filter":{"field":"typ","equal":"Technikum"}}],"layer":[
   {"data":{"name":"ciezkie"},"transform":[{"filter":{"field":"typ","equal":"Technikum"}},{"window":[{"op":"row_number","as":"i"}]},{"joinaggregate":[{"op":"count","as":"n"}]},{"calculate":"datum.n > 30 ? floor((datum.i - 1) / 10) : 2 * ((datum.i - 1) % 5)","as":"kol"},{"calculate":"datum.n > 30 ? (datum.i - 1) % 10 : 2 * floor((datum.i - 1) / 5)","as":"wiersz"},{"calculate":"datum.n > 30 ? 'drobna' : 'duża'","as":"kropka"}],
    "mark":{"type":"circle","color":"#e4272b","opacity":1},
    "encoding":{"x":{"field":"kol","type":"quantitative","scale":{"domain":[-10.12,16.79],"nice":false,"zero":false},"axis":null},"y":{"field":"wiersz","type":"quantitative","scale":{"domain":[-3.333,7.62],"nice":false,"zero":false},"axis":null},"size":{"field":"kropka","type":"ordinal","scale":{"domain":["duża","drobna"],"range":[30,10]},"legend":null}}},
   {"mark":{"type":"text","align":"right","baseline":"alphabetic","dx":-8,"dy":4,"font":"Open Sans","fontWeight":"bold","fontSize":13.5,"color":"#1a1a1a"},"encoding":{"x":{"datum":0,"type":"quantitative","scale":{"domain":[-10.12,16.79],"nice":false,"zero":false},"axis":null},"y":{"datum":0,"type":"quantitative","scale":{"domain":[-3.333,7.62],"nice":false,"zero":false},"axis":null},"text":{"field":"ciezkie","type":"quantitative"}}},
   {"mark":{"type":"rule","color":"#8c8c8c","strokeWidth":1,"strokeDash":[1,1.6]},"encoding":{"y":{"value":"height"}}},
   {"mark":{"type":"rule","color":"#dadada","strokeWidth":1.5},"encoding":{"x":{"value":"width"}}}]},
  {"width":89,"height":46,"data":{"name":"dane"},"transform":[{"filter":{"field":"typ","equal":"Technikum"}}],"layer":[
   {"data":{"name":"smiertelne"},"transform":[{"filter":{"field":"typ","equal":"Technikum"}},{"window":[{"op":"row_number","as":"i"}]},{"joinaggregate":[{"op":"count","as":"n"}]},{"calculate":"datum.n > 30 ? floor((datum.i - 1) / 10) : 2 * ((datum.i - 1) % 5)","as":"kol"},{"calculate":"datum.n > 30 ? (datum.i - 1) % 10 : 2 * floor((datum.i - 1) / 5)","as":"wiersz"},{"calculate":"datum.n > 30 ? 'drobna' : 'duża'","as":"kropka"}],
    "mark":{"type":"circle","color":"#4a4a4a","opacity":1},
    "encoding":{"x":{"field":"kol","type":"quantitative","scale":{"domain":[-9.45,11.74],"nice":false,"zero":false},"axis":null},"y":{"field":"wiersz","type":"quantitative","scale":{"domain":[-3.333,7.62],"nice":false,"zero":false},"axis":null},"size":{"field":"kropka","type":"ordinal","scale":{"domain":["duża","drobna"],"range":[30,10]},"legend":null}}},
   {"mark":{"type":"text","align":"right","baseline":"alphabetic","dx":-11,"dy":4,"font":"Open Sans","fontWeight":"bold","fontSize":13.5,"color":"#1a1a1a"},"encoding":{"x":{"datum":0,"type":"quantitative","scale":{"domain":[-9.45,11.74],"nice":false,"zero":false},"axis":null},"y":{"datum":0,"type":"quantitative","scale":{"domain":[-3.333,7.62],"nice":false,"zero":false},"axis":null},"text":{"field":"smiertelne","type":"quantitative"}}},
   {"mark":{"type":"rule","color":"#8c8c8c","strokeWidth":1,"strokeDash":[1,1.6]},"encoding":{"y":{"value":"height"}}}]},

  {"width":90,"height":32,"data":{"name":"dane"},"transform":[{"filter":{"field":"typ","equal":"Inne"}}],"layer":[
   {"mark":{"type":"text","align":"left","baseline":"bottom","font":"Open Sans","fontSize":13.5,"lineHeight":16.5,"color":"#222222","lineBreak":" "},"encoding":{"text":{"field":"typ","type":"nominal"},"x":{"value":2},"y":{"value":24.8}}},
   {"mark":{"type":"rule","color":"#8c8c8c","strokeWidth":1,"strokeDash":[1,1.6]},"encoding":{"y":{"value":"height"}}},
   {"mark":{"type":"rule","color":"#dadada","strokeWidth":1.5},"encoding":{"x":{"value":"width"}}}]},
  {"width":155,"height":32,"data":{"name":"dane"},"transform":[{"filter":{"field":"typ","equal":"Inne"}}],"layer":[
   {"mark":{"type":"rect","color":"#cccbf8","cornerRadius":5},"encoding":{"x":{"field":"ogolem","type":"quantitative","scale":{"type":"sqrt","domain":[0,30805],"range":[65,139],"nice":false},"axis":null},"x2":{"datum":0},"y":{"field":"ogolem","type":"quantitative","scale":{"type":"sqrt","domain":[0,30805],"range":[20.5,-53.5],"nice":false},"axis":null},"y2":{"datum":0}}},
   {"mark":{"type":"text","align":"right","baseline":"alphabetic","dx":-8,"dy":1,"font":"Open Sans","fontWeight":"bold","fontSize":13.5,"color":"#1a1a1a"},"encoding":{"x":{"datum":0,"type":"quantitative","scale":{"type":"sqrt","domain":[0,30805],"range":[65,139],"nice":false},"axis":null},"y":{"datum":0,"type":"quantitative","scale":{"type":"sqrt","domain":[0,30805],"range":[20.5,-53.5],"nice":false},"axis":null},"text":{"field":"ogolem","type":"quantitative","format":"d"}}},
   {"mark":{"type":"rule","color":"#8c8c8c","strokeWidth":1,"strokeDash":[1,1.6]},"encoding":{"y":{"value":"height"}}},
   {"mark":{"type":"rule","color":"#dadada","strokeWidth":1.5},"encoding":{"x":{"value":"width"}}}]},
  {"width":113,"height":32,"data":{"name":"dane"},"transform":[{"filter":{"field":"typ","equal":"Inne"}}],"layer":[
   {"data":{"name":"ciezkie"},"transform":[{"filter":{"field":"typ","equal":"Inne"}},{"window":[{"op":"row_number","as":"i"}]},{"joinaggregate":[{"op":"count","as":"n"}]},{"calculate":"datum.n > 30 ? floor((datum.i - 1) / 10) : 2 * ((datum.i - 1) % 5)","as":"kol"},{"calculate":"datum.n > 30 ? (datum.i - 1) % 10 : 2 * floor((datum.i - 1) / 5)","as":"wiersz"},{"calculate":"datum.n > 30 ? 'drobna' : 'duża'","as":"kropka"}],
    "mark":{"type":"circle","color":"#e4272b","opacity":1},
    "encoding":{"x":{"field":"kol","type":"quantitative","scale":{"domain":[-10.12,16.79],"nice":false,"zero":false},"axis":null},"y":{"field":"wiersz","type":"quantitative","scale":{"domain":[-3.333,4.29],"nice":false,"zero":false},"axis":null},"size":{"field":"kropka","type":"ordinal","scale":{"domain":["duża","drobna"],"range":[30,10]},"legend":null}}},
   {"mark":{"type":"text","align":"right","baseline":"alphabetic","dx":-8,"dy":4,"font":"Open Sans","fontWeight":"bold","fontSize":13.5,"color":"#1a1a1a"},"encoding":{"x":{"datum":0,"type":"quantitative","scale":{"domain":[-10.12,16.79],"nice":false,"zero":false},"axis":null},"y":{"datum":0,"type":"quantitative","scale":{"domain":[-3.333,4.29],"nice":false,"zero":false},"axis":null},"text":{"field":"ciezkie","type":"quantitative"}}},
   {"mark":{"type":"rule","color":"#8c8c8c","strokeWidth":1,"strokeDash":[1,1.6]},"encoding":{"y":{"value":"height"}}},
   {"mark":{"type":"rule","color":"#dadada","strokeWidth":1.5},"encoding":{"x":{"value":"width"}}}]},
  {"width":89,"height":32,"data":{"name":"dane"},"transform":[{"filter":{"field":"typ","equal":"Inne"}}],"layer":[
   {"mark":{"type":"text","align":"right","baseline":"alphabetic","dx":-11,"dy":4,"font":"Open Sans","fontWeight":"bold","fontSize":13.5,"color":"#1a1a1a"},"encoding":{"x":{"datum":0,"type":"quantitative","scale":{"domain":[-9.45,11.74],"nice":false,"zero":false},"axis":null},"y":{"datum":0,"type":"quantitative","scale":{"domain":[-3.333,4.29],"nice":false,"zero":false},"axis":null},"text":{"field":"smiertelne","type":"quantitative"}}},
   {"mark":{"type":"rule","color":"#8c8c8c","strokeWidth":1,"strokeDash":[1,1.6]},"encoding":{"y":{"value":"height"}}}]}
 ]},
{"width":447,"height":20,
 "data":{"values":[{"zrodlo":"Źródło: MEN","autor":"MC"}]},
 "layer":[
  {"mark":{"type":"text","align":"left","baseline":"middle","font":"Open Sans","fontWeight":"bold","fontSize":10.5,"color":"#1a1a1a"},"encoding":{"text":{"field":"zrodlo","type":"nominal"},"x":{"value":2},"y":{"value":10.5}}},
  {"mark":{"type":"text","align":"right","baseline":"middle","font":"Open Sans","fontWeight":"bold","fontSize":7.5,"color":"#333333"},"encoding":{"text":{"field":"autor","type":"nominal"},"x":{"value":"width"},"y":{"value":10.5}}}
 ]}
]
}
